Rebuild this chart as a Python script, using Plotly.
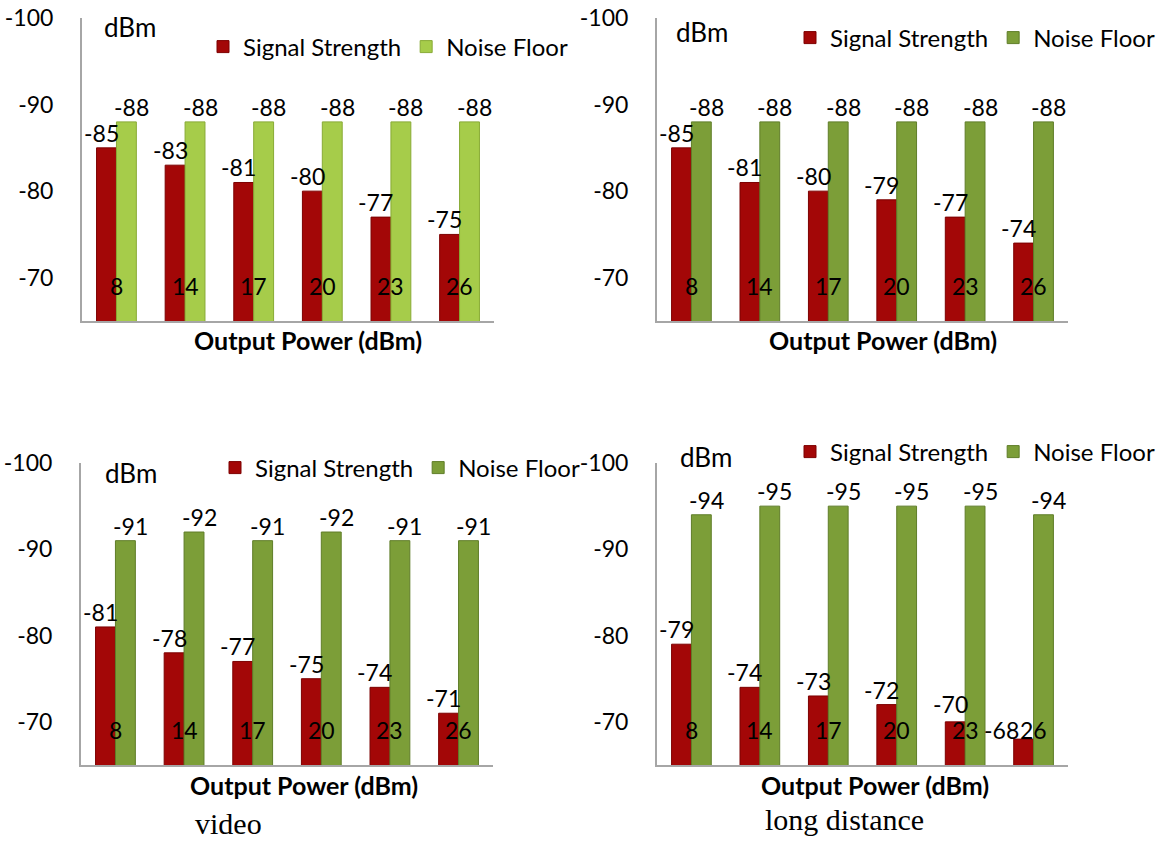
import plotly.graph_objects as go

# ---------------- data ----------------
categories = ["8", "14", "17", "20", "23", "26"]

signal_1 = [-85, -83, -81, -80, -77, -75]
noise_1 = [-88, -88, -88, -88, -88, -88]

signal_2 = [-85, -81, -80, -79, -77, -74]
noise_2 = [-88, -88, -88, -88, -88, -88]

signal_3 = [-81, -78, -77, -75, -74, -71]
noise_3 = [-91, -92, -91, -92, -91, -91]

signal_4 = [-79, -74, -73, -72, -70, -68]
noise_4 = [-94, -95, -95, -95, -95, -94]

y_ticks = [-100, -90, -80, -70]
y_range = [-65, -100]
captions = ["video", "long distance"]
x_title = "Output Power (dBm)"
unit_label = "dBm"
series_names = ["Signal Strength", "Noise Floor"]

# ---------------- styling ----------------
W, H = 1162, 843
FONT = "Lato"
RED = "#a30707"
RED_LINE = "#7d0000"
LIME = "#a6cc4a"
LIME_LINE = "#88ab35"
OLIVE = "#7c9e38"
OLIVE_LINE = "#5f7d28"
AXIS = "#a6a6a6"
BARGAP = 0.42
LABEL_SIZE = 23
CAT_LABEL_Y = -69


def px_x(p):
    return p / W


def px_y(p):
    return 1 - p / H


panels = [
    dict(sig=signal_1, noi=noise_1, green=LIME, gline=LIME_LINE,
         xd=(82, 494), yd=(18, 321), legend=(203, 47), dbm=(130, 27), title=(308, 340)),
    dict(sig=signal_2, noi=noise_2, green=OLIVE, gline=OLIVE_LINE,
         xd=(657, 1068), yd=(18, 321), legend=(790, 38), dbm=(702, 32), title=(883, 340)),
    dict(sig=signal_3, noi=noise_3, green=OLIVE, gline=OLIVE_LINE,
         xd=(81, 493), yd=(463, 765), legend=(215, 468), dbm=(131, 473), title=(304, 785)),
    dict(sig=signal_4, noi=noise_4, green=OLIVE, gline=OLIVE_LINE,
         xd=(657, 1068), yd=(463, 765), legend=(790, 452), dbm=(706, 457), title=(875, 785)),
]

fig = go.Figure()
layout = dict(
    width=W, height=H, autosize=False,
    margin=dict(l=0, r=0, t=0, b=0, pad=0, autoexpand=False),
    paper_bgcolor="white", plot_bgcolor="white",
    barmode="group", bargap=BARGAP, bargroupgap=0,
    font=dict(family=FONT, color="black", size=LABEL_SIZE),
)
annotations = []
half = (1 - BARGAP) / 4  # offset of each bar centre from its category centre

for i, p in enumerate(panels):
    n = "" if i == 0 else str(i + 1)
    xa, ya = "x" + n, "y" + n
    leg = "legend" + n
    series = [
        (series_names[0], p["sig"], RED, RED_LINE, -half, -5),
        (series_names[1], p["noi"], p["green"], p["gline"], half, 5),
    ]
    for name, vals, col, lcol, off, shift in series:
        fig.add_trace(go.Bar(
            x=categories, y=vals, name=name,
            xaxis=xa, yaxis=ya, legend=leg,
            marker=dict(color=col, line=dict(color=lcol, width=1)),
            hoverinfo="name+y",
        ))
        # value labels just above the end of each bar
        for k, v in enumerate(vals):
            low = v > CAT_LABEL_Y + 0.5      # would sit on the category label: push aside
            near = v > CAT_LABEL_Y - 1.5     # close to the category label: lift slightly
            if low:
                xs, ys = shift - 17, -7
            elif near:
                xs, ys = shift, 2
            else:
                xs, ys = shift, -1
            annotations.append(dict(
                x=k + off, y=v, xref=xa, yref=ya, text=str(v), showarrow=False,
                xanchor="center", yanchor="bottom", xshift=xs, yshift=ys,
                font=dict(family=FONT, size=LABEL_SIZE, color="black"),
            ))

    layout["xaxis" + n] = dict(
        domain=[px_x(p["xd"][0]), px_x(p["xd"][1])], anchor=ya,
        type="category", showticklabels=False, ticks="",
        showline=True, linecolor=AXIS, linewidth=2, showgrid=False, zeroline=False,
        fixedrange=True,
    )
    layout["yaxis" + n] = dict(
        domain=[px_y(p["yd"][1]), px_y(p["yd"][0])], anchor=xa,
        range=y_range, tickvals=y_ticks, ticktext=[str(t) for t in y_ticks],
        ticks="outside", ticklen=22, tickcolor="rgba(0,0,0,0)",
        tickfont=dict(family=FONT, size=LABEL_SIZE, color="black"),
        showline=True, linecolor=AXIS, linewidth=2, showgrid=False, zeroline=False,
        fixedrange=True,
    )
    layout[leg] = dict(
        x=px_x(p["legend"][0]), y=px_y(p["legend"][1]),
        xanchor="left", yanchor="middle", orientation="h",
        bgcolor="rgba(0,0,0,0)", font=dict(family=FONT, size=24, color="black"),
        itemclick=False, itemdoubleclick=False,
    )
    # category labels drawn inside the plot near the bottom
    for k, c in enumerate(categories):
        annotations.append(dict(
            x=k, y=CAT_LABEL_Y, xref=xa, yref=ya, text=c, showarrow=False,
            xanchor="center", yanchor="middle",
            font=dict(family=FONT, size=LABEL_SIZE, color="black"),
        ))
    annotations.append(dict(
        x=px_x(p["dbm"][0]), y=px_y(p["dbm"][1]), xref="paper", yref="paper",
        text=unit_label, showarrow=False, xanchor="center", yanchor="middle",
        font=dict(family=FONT, size=26, color="black"),
    ))
    annotations.append(dict(
        x=px_x(p["title"][0]), y=px_y(p["title"][1]), xref="paper", yref="paper",
        text="<b>" + x_title + "</b>", showarrow=False, xanchor="center", yanchor="middle",
        font=dict(family=FONT, size=25, color="black"),
    ))

for cap, cx, cy in zip(captions, [228, 844], [823, 819]):
    annotations.append(dict(
        x=px_x(cx), y=px_y(cy), xref="paper", yref="paper", text=cap, showarrow=False,
        xanchor="center", yanchor="middle",
        font=dict(family="Liberation Serif", size=30, color="black"),
    ))

layout["annotations"] = annotations
fig.update_layout(**layout)

fig.write_html(
    "out.html",
    config={"displayModeBar": False},
    post_script="document.body.style.margin='0';document.body.style.overflow='hidden';",
)
